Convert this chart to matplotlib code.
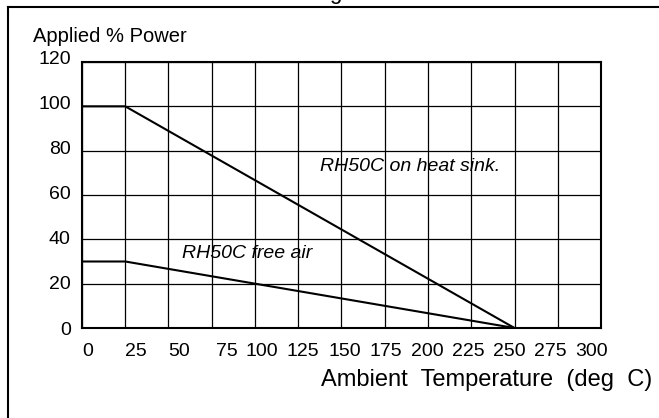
import matplotlib.pyplot as plt
from matplotlib.lines import Line2D
from matplotlib.transforms import ScaledTranslation

plt.rcParams['font.family'] = ['Liberation Sans', 'DejaVu Sans']

# derating curves
sink_temp = [0, 25, 250]
sink_power = [100, 100, 0]
air_temp = [0, 25, 250]
air_power = [30, 30, 0]

x_ticks = list(range(0, 301, 25))
y_ticks = list(range(0, 121, 20))

fig = plt.figure(figsize=(6.59, 4.18), dpi=100)
ax = fig.add_axes([0.1244, 0.2153, 0.7876, 0.6364])

ax.plot(sink_temp, sink_power, color='black', lw=1.5)
ax.plot(air_temp, air_power, color='black', lw=1.5)

ax.set_xlim(0, 300)
ax.set_ylim(0, 120)
ax.set_xticks(x_ticks)
ax.set_yticks(y_ticks)
ax.grid(True, color='black', lw=0.9)
ax.tick_params(length=0, labelsize=14)
ax.tick_params(axis='x', pad=11)
ax.tick_params(axis='y', pad=8)
for s in ax.spines.values():
    s.set_linewidth(1.5)

# the original's tick labels are squeezed a little, not centred on the grid
for tick, v in zip(ax.xaxis.get_major_ticks(), x_ticks):
    lab = tick.label1
    if v < 100:
        lab.set_ha('left')
        dx = 4 if v == 75 else 0
    else:
        dx = 7 - 2 * (v - 100) / 25
    lab.set_transform(lab.get_transform() + ScaledTranslation(dx / 100, 0, fig.dpi_scale_trans))
for tick, v in zip(ax.yaxis.get_major_ticks(), y_ticks):
    lab = tick.label1
    dy = 0.8 * v / 20
    lab.set_transform(lab.get_transform() + ScaledTranslation(0, dy / 100, fig.dpi_scale_trans))

ax.text(137.6, 72.9, 'RH50C on heat sink.', style='italic', fontsize=14, va='center')
ax.text(57.7, 33.8, 'RH50C free air', style='italic', fontsize=14, va='center')

fig.text(33 / 659, 1 - 37 / 418, 'Applied % Power', fontsize=14.5, va='center')
fig.text(652 / 659, 1 - 380 / 418, 'Ambient  Temperature  (deg  C)', fontsize=17,
         ha='right', va='center')

# cut-off title and frame
fig.text(300 / 659, 1.0 + 1 / 418, 'Derating', fontsize=16, ha='center', va='baseline')
fig.add_artist(Line2D([8 / 659, 8 / 659], [0, 1 - 7 / 418], color='black', lw=1.5,
                      transform=fig.transFigure))
fig.add_artist(Line2D([8 / 659, 1], [1 - 7 / 418, 1 - 7 / 418], color='black', lw=1.5,
                      transform=fig.transFigure))

fig.savefig('out.png', dpi=100)
